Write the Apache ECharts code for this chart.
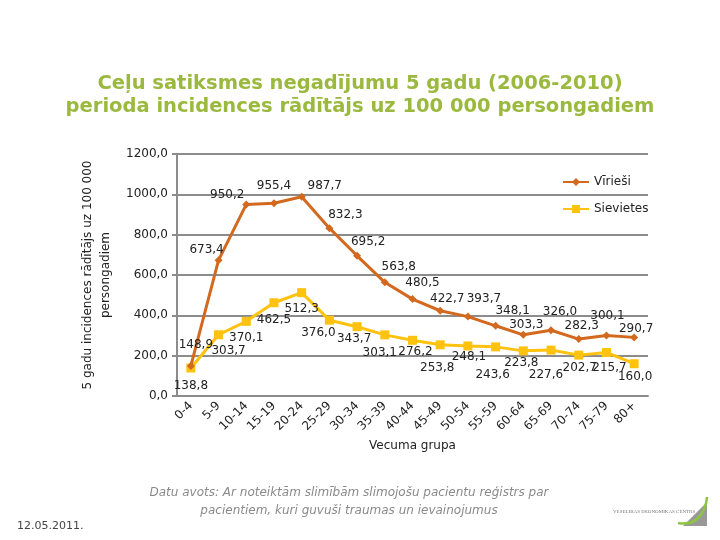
<!DOCTYPE html>
<html><head><meta charset="utf-8">
<script src="https://cdn.jsdelivr.net/npm/echarts@6/dist/echarts.min.js"></script>
<style>html,body{margin:0;padding:0;background:#fff}#c{width:720px;height:540px}</style>
</head><body><div id="c"></div>
<script>
var categories = ['0-4','5-9','10-14','15-19','20-24','25-29','30-34','35-39','40-44','45-49','50-54','55-59','60-64','65-69','70-74','75-79','80+'];
var virieši = [148.9, 673.4, 950.2, 955.4, 987.7, 832.3, 695.2, 563.8, 480.5, 422.7, 393.7, 348.1, 303.3, 326.0, 282.3, 300.1, 290.7];
var sievietes = [138.8, 303.7, 370.1, 462.5, 512.3, 376.0, 343.7, 303.1, 276.2, 253.8, 248.1, 243.6, 223.8, 227.6, 202.7, 215.7, 160.0];
var yTicks = [0, 200, 400, 600, 800, 1000, 1200];

// label offsets (style only)
var menOff = [[5,-21],[-12,-10],[-19,-10],[0,-17],[23,-11],[16,-13],[11,-14],[14,-15],[10,-16],[7,-12],[16,-18],[17,-15],[3,-10],[9,-18],[3,-13],[1,-20],[2,-9]];
var womOff = [[0,18],[10,16],[0,17],[0,17],[0,16],[-11,13],[-3,12],[-5,18],[3,12],[-3,23],[1,11],[-3,28],[-2,12],[-5,25],[1,13],[3,15],[1,13]];

function fmt(v){ return v.toFixed(1).replace('.', ','); }
var F = 'DejaVu Sans, Verdana, sans-serif';
var labelBase = {show:true, position:'inside', fontFamily:F, fontSize:12, color:'#222', formatter:function(p){return fmt(p.value);}};

var chart = echarts.init(document.getElementById('c'));
chart.setOption({
  animation:false,
  backgroundColor:'#fff',
  title:{
    text:'Ceļu satiksmes negadījumu 5 gadu (2006-2010)\nperioda incidences rādītājs uz 100 000 persongadiem',
    left:'center', top:67,
    textStyle:{fontFamily:F, fontWeight:'bold', fontSize:19.5, color:'#9AB93E', lineHeight:23}
  },
  legend:{
    orient:'vertical', left:557, top:171, itemGap:15, itemWidth:26, itemHeight:10,
    textStyle:{fontFamily:F, fontSize:12, color:'#222'},
    data:['Vīrieši','Sievietes']
  },
  grid:{left:177, right:72, top:154, bottom:144},
  xAxis:{
    type:'category', data:categories, boundaryGap:true,
    name:'Vecuma grupa', nameLocation:'middle', nameGap:44,
    nameTextStyle:{fontFamily:F, fontSize:12, color:'#222'},
    axisLine:{lineStyle:{color:'#8c8c8c', width:2}},
    axisTick:{show:false},
    axisLabel:{rotate:45, interval:0, fontFamily:F, fontSize:12, color:'#222', margin:8}
  },
  yAxis:{
    type:'value', min:0, max:1200, interval:200,
    name:'5 gadu incidences rādītājs uz 100 000\npersongadiem', nameLocation:'middle', nameGap:57, nameRotate:90,
    nameTextStyle:{fontFamily:F, fontSize:12, color:'#222', lineHeight:18},
    axisLine:{show:true, lineStyle:{color:'#8c8c8c', width:2}},
    axisTick:{show:true, inside:false, length:5, lineStyle:{color:'#8c8c8c', width:2}},
    axisLabel:{fontFamily:F, fontSize:12, color:'#222', margin:9, formatter:function(v){return fmt(v);}},
    splitLine:{lineStyle:{color:'#8c8c8c', width:2}}
  },
  series:[
    {name:'Vīrieši', type:'line', symbol:'diamond', symbolSize:8,
     lineStyle:{color:'#D2691E', width:3}, itemStyle:{color:'#D2691E'},
     label:labelBase, z:3,
     data:virieši.map(function(v,i){return {value:v, label:{offset:menOff[i]}};})},
    {name:'Sievietes', type:'line', symbol:'rect', symbolSize:9,
     lineStyle:{color:'#FFC20E', width:3}, itemStyle:{color:'#FFC20E'},
     label:labelBase, z:2,
     data:sievietes.map(function(v,i){return {value:v, label:{offset:womOff[i]}};})}
  ],
  graphic:[
    {type:'text', x:349, y:484, style:{text:'Datu avots: Ar noteiktām slimībām slimojošu pacientu reģistrs par\npacientiem, kuri guvuši traumas un ievainojumus', fontFamily:F, fontStyle:'italic', fontSize:12, fill:'#8a8a8a', align:'center', lineHeight:18}},
    {type:'text', x:17, y:521, style:{text:'12.05.2011.', fontFamily:F, fontSize:11, fill:'#444'}},
    {type:'text', x:613, y:509, style:{text:'VESELĪBAS EKONOMIKAS CENTRS', fontFamily:'Liberation Serif, serif', fontSize:5, fill:'#777'}},
    {type:'polygon', shape:{points:[[707,502],[707,526],[683,526]]}, style:{fill:'#999'}},
    {type:'bezierCurve', shape:{x1:678,y1:523,x2:707,y2:497,cpx1:698,cpy1:527,cpx2:706,cpy2:510}, style:{stroke:'#8CC63F', lineWidth:2.5, fill:null}}
  ]
});
</script></body></html>
